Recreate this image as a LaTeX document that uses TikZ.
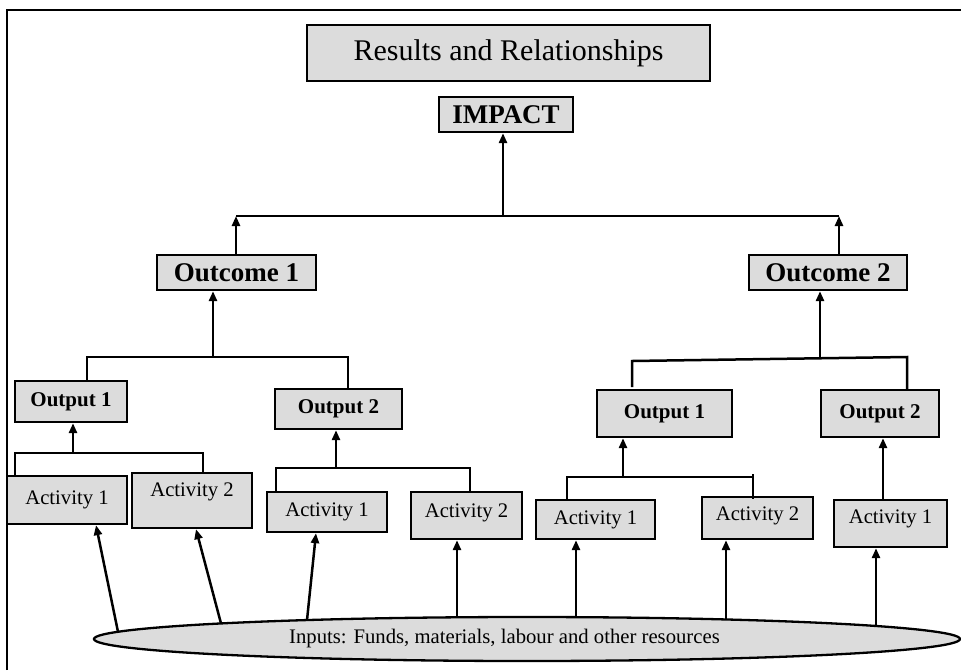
\documentclass[tikz,border=0pt]{standalone}
\usepackage{fontspec}
\setmainfont{Liberation Serif}
\usetikzlibrary{arrows.meta,shapes.geometric,calc}
\definecolor{boxgray}{RGB}{220,220,220}
\begin{document}
\begin{tikzpicture}[x=1pt,y=-1pt,
  box/.style={draw=black, line width=2.3pt, fill=boxgray, inner sep=0pt, align=center},
  ln/.style={line width=2.5pt},
  arr/.style={line width=2.5pt, -{Triangle[length=10pt,width=8pt]}},
  bigbold/.style={font=\fontsize{27}{30}\selectfont\bfseries},
  midbold/.style={font=\fontsize{21}{24}\selectfont\bfseries},
  act/.style={font=\fontsize{20.7}{24}\selectfont},
]
\useasboundingbox (0,0) rectangle (961,670);
\draw[line width=1.5pt] (7,670) -- (7,10) -- (961,10);

% top level
\node[box, minimum width=403pt, minimum height=56pt, font=\fontsize{30}{36}\selectfont] (title) at (508.5,53) {Results and Relationships};
\node[box, bigbold, minimum width=134pt, minimum height=35pt] (impact) at (506,114.5) {IMPACT};
\node[box, bigbold, minimum width=159pt, minimum height=35pt] (o1) at (236.5,272.5) {Outcome 1};
\node[box, bigbold, minimum width=158pt, minimum height=35pt] (o2) at (828,272.5) {Outcome 2};

% outputs
\node[box, midbold, minimum width=112pt, minimum height=41pt] (p1L) at (71,401.5) {Output 1};
\node[box, midbold, minimum width=127pt, minimum height=40pt] (p2L) at (338.5,409) {Output 2};
\node[box, midbold, minimum width=135pt, minimum height=47pt] (p1R) at (664.5,413.5) {Output 1};
\node[box, midbold, minimum width=118pt, minimum height=47pt] (p2R) at (880,413.5) {Output 2};

% activities
\node[box, act, minimum width=120pt, minimum height=48pt] (a1) at (67,500) {Activity 1};
\node[box, act, minimum width=120pt, minimum height=55pt, text depth=21pt] (a2) at (192,500.5) {Activity 2};
\node[box, act, minimum width=120pt, minimum height=40pt] (a3) at (327,512) {Activity 1};
\node[box, act, minimum width=111pt, minimum height=47pt, text depth=9pt] (a4) at (466.5,515.5) {Activity 2};
\node[box, act, minimum width=119pt, minimum height=39pt] (a5) at (595.5,519.5) {Activity 1};
\node[box, act, minimum width=111pt, minimum height=42pt, text depth=8pt] (a6) at (757.5,518) {Activity 2};
\node[box, act, minimum width=113pt, minimum height=47pt, text depth=13pt] (a7) at (890.5,523.5) {Activity 1};

% inputs ellipse
\node[ellipse, draw=black, line width=2.3pt, fill=boxgray, inner sep=0pt,
      minimum width=866pt, minimum height=44pt, act] (inputs) at (527,639)
      {\hspace*{-45pt}Inputs: Funds, materials, labour and other resources};

% level 1 connectors
\coordinate (b1) at (503,216);
\coordinate (b1l) at (236,216);
\coordinate (b1r) at (839,216);
\draw[ln] (b1l) -- (b1r);
\draw[arr] (b1) -- (impact.south -| b1);
\draw[arr] (o1.north -| b1l) -- (b1l);
\draw[arr] (o2.north -| b1r) -- (b1r);

% outcome 1
\coordinate (b2) at (213,357);
\coordinate (b2l) at (87,357);
\coordinate (b2r) at (348,357);
\draw[ln] (p1L.north -| b2l) -- (b2l) -- (b2r) -- (p2L.north -| b2r);
\draw[arr] (b2) -- (o1.south -| b2);

% outcome 2
\coordinate (b3) at (820,358.3);
\coordinate (b3l) at (632,361);
\coordinate (b3r) at (907,357);
\draw[ln] (632,387) -- (b3l) -- (b3r) -- (p2R.north -| b3r);
\draw[arr] (b3) -- (o2.south -| b3);

% output 1 left
\coordinate (b4) at (73,453);
\coordinate (b4l) at (15,453);
\coordinate (b4r) at (203,453);
\draw[ln] (a1.north -| b4l) -- (b4l) -- (b4r) -- (a2.north -| b4r);
\draw[arr] (b4) -- (p1L.south -| b4);

% output 2 left
\coordinate (b5) at (336,468);
\coordinate (b5l) at (276,468);
\coordinate (b5r) at (470,468);
\draw[ln] (a3.north -| b5l) -- (b5l) -- (b5r) -- (a4.north -| b5r);
\draw[arr] (b5) -- (p2L.south -| b5);

% output 1 right
\coordinate (b6) at (623,477);
\coordinate (b6l) at (567,477);
\coordinate (b6r) at (753,477);
\draw[ln] (a5.north -| b6l) -- (b6l) -- (b6r);
\draw[ln] (753,474) -- (753,499);
\draw[arr] (b6) -- (p1R.south -| b6);

% output 2 right
\draw[arr] ([xshift=-7.5pt]a7.north) -- ([xshift=3pt]p2R.south);

% inputs to activities
\coordinate (in1) at (118,631.8);
\coordinate (in2) at (221,623.4);
\coordinate (in3) at (307,620.1);
\coordinate (in4) at (457,617.3);
\coordinate (in5) at (576,617.4);
\coordinate (in6) at (726,619.5);
\coordinate (in7) at (876,626);
\draw[arr] (in1) -- ([xshift=29pt]a1.south);
\draw[arr] (in2) -- ([xshift=4pt]a2.south);
\draw[arr] (in3) -- ([xshift=-11pt]a3.south);
\draw[arr] (in4) -- ([xshift=-9.5pt]a4.south);
\draw[arr] (in5) -- ([xshift=-19.5pt]a5.south);
\draw[arr] (in6) -- ([xshift=-31.5pt]a6.south);
\draw[arr] (in7) -- ([xshift=-14.5pt]a7.south);
\end{tikzpicture}
\end{document}
